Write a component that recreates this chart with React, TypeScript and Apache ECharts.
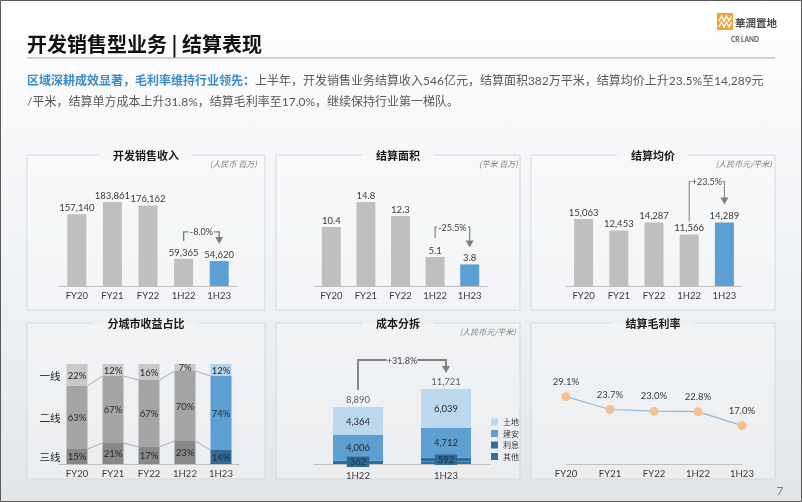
import React, { useEffect, useRef } from "react";
import * as echarts from "echarts";

const periods = ["FY20", "FY21", "FY22", "1H22", "1H23"];
const revenue = [157140, 183861, 176162, 59365, 54620];
const settledArea = [10.4, 14.8, 12.3, 5.1, 3.8];
const avgPrice = [15063, 12453, 14287, 11566, 14289];
const tier1Share = [22, 12, 16, 7, 12];
const tier2Share = [63, 67, 67, 70, 74];
const tier3Share = [15, 21, 17, 23, 14];
const tierNames = ["一线", "二线", "三线"];
const costPeriods = ["1H22", "1H23"];
const costNames = ["土地", "建安", "利息", "其他"];
const costLand = [4364, 6039];
const costBuild = [4006, 4712];
const costInterest = [362, 592];
const costOther = [158, 378];
const costTotal = [8890, 11721];
const grossMargin = [29.1, 23.7, 23.0, 22.8, 17.0];
const changeLabels = ["-8.0%", "-25.5%", "+23.5%", "+31.8%"];
const panelTitles = ["开发销售收入", "结算面积", "结算均价", "分城市收益占比", "成本分拆", "结算毛利率"];
const panelUnits = ["(人民币 百万)", "(平米 百万)", "(人民币元/平米)", "", "(人民币元/平米)", ""];

const NUM = "Lato, 'Noto Sans CJK SC', sans-serif";
const CJK = "'Noto Sans CJK SC', 'Noto Sans', sans-serif";
const GRAY_BAR = "#bfbfbf";
const BLUE_BAR = "#5b9fd3";
const TXT = "#3a3a3a";
const FS = 9.5;

const fmt = (v: number) => v.toLocaleString("en-US");

function bracket(axis: number, from: number, to: number, fromVal: number, toVal: number, text: string,
  gapFrom: number, gapTo: number, rise: number, lw: number) {
  return {
    type: "custom",
    xAxisIndex: axis,
    yAxisIndex: axis,
    silent: true,
    z: 6,
    data: [[from, fromVal, to, toVal]],
    renderItem: (_p: any, api: any) => {
      const a = api.coord([api.value(0), api.value(1)]);
      const b = api.coord([api.value(2), api.value(3)]);
      const x1 = a[0], x2 = b[0];
      const y1 = a[1] - gapFrom, y2 = b[1] - gapTo;
      const yt = Math.min(y1, y2) - rise;
      const mid = (x1 + x2) / 2;
      const tw = text.length * 4.6 + 3;
      const st = { stroke: "#7f7f7f", lineWidth: lw, fill: null };
      return {
        type: "group",
        children: [
          { type: "polyline", shape: { points: [[x1, y1], [x1, yt], [mid - tw / 2, yt]] }, style: st },
          { type: "polyline", shape: { points: [[mid + tw / 2, yt], [x2, yt], [x2, y2 - 6]] }, style: st },
          { type: "polygon", shape: { points: [[x2 - 4, y2 - 7], [x2 + 4, y2 - 7], [x2, y2]] }, style: { fill: "#7f7f7f" } },
          { type: "text", x: mid, y: yt, style: { text, fill: "#404040", fontSize: 9, fontFamily: NUM, align: "center", verticalAlign: "middle" } },
        ],
      };
    },
  };
}

function box(x0: number, x1: number, y0: number, y1: number, title: string, unit: string, unitX: number, unitY: number) {
  const cx = (x0 + x1) / 2;
  const gap = title.length * 11 + 28;
  const els: any[] = [
    { type: "rect", shape: { x: x0, y: y0, width: x1 - x0, height: y1 - y0 }, style: { fill: "rgba(255,255,255,0.25)" }, z: -5 },
    {
      type: "polyline",
      shape: { points: [[cx - gap / 2, y0], [x0, y0], [x0, y1], [x1, y1], [x1, y0], [cx + gap / 2, y0]] },
      style: { stroke: "#d5d8db", lineWidth: 1, fill: null },
    },
    { type: "text", x: cx, y: y0, style: { text: title, fill: "#1a1a1a", fontSize: 11, fontWeight: "bold", fontFamily: CJK, align: "center", verticalAlign: "middle" } },
  ];
  if (unit) {
    els.push({ type: "text", x: unitX, y: unitY, style: { text: unit, fill: "#7f7f7f", fontSize: 8, fontStyle: "italic", fontFamily: CJK, align: "right", verticalAlign: "middle" } });
  }
  return els;
}

function axisX(idx: number, data: string[], margin: number, boundaryGap = true) {
  return {
    type: "category",
    gridIndex: idx,
    data,
    boundaryGap,
    axisLine: { lineStyle: { color: "#bfbfbf", width: 1 } },
    axisTick: { show: false },
    axisLabel: { color: TXT, fontSize: FS, fontFamily: NUM, margin },
  };
}

function axisY(idx: number, min: number, max: number) {
  return { type: "value", gridIndex: idx, min, max, show: false, splitLine: { show: false } };
}

function simpleBar(idx: number, data: number[], decimals: boolean) {
  return {
    type: "bar",
    xAxisIndex: idx,
    yAxisIndex: idx,
    barWidth: 19,
    data,
    itemStyle: { color: (p: any) => (p.dataIndex === data.length - 1 ? BLUE_BAR : GRAY_BAR) },
    label: {
      show: true,
      position: "top",
      distance: 2,
      color: TXT,
      fontSize: FS,
      fontFamily: NUM,
      formatter: (p: any) => (decimals ? Number(p.value).toFixed(1) : fmt(p.value)),
    },
  };
}

const tierColors = [
  ["#c9c9c9", "#b3d3ec"],
  ["#a5a5a5", "#5b9fd3"],
  ["#888888", "#2f6b9b"],
];

function tierBar(k: number, data: number[]) {
  return {
    type: "bar",
    name: "tier" + k,
    stack: "tier",
    xAxisIndex: 3,
    yAxisIndex: 3,
    barWidth: 21,
    data,
    itemStyle: { color: (p: any) => (p.dataIndex === data.length - 1 ? tierColors[k][1] : tierColors[k][0]) },
    label: { show: true, position: "inside", color: "#2a2a2a", fontSize: FS, fontFamily: NUM, formatter: "{c}%" },
  };
}

export default function App() {
  const ref = useRef<HTMLDivElement>(null);
  useEffect(() => {
    if (!ref.current) return;
    const chart = echarts.init(ref.current, undefined, { renderer: "svg" });

    const costColors = ["#bcd8ee", "#5e9fd1", "#2e6d9e", "#3a6f99"];

    const option: any = {
      animation: false,
      grid: [
        { left: 59, top: 186, width: 178, height: 100 },
        { left: 314, top: 186, width: 173, height: 100 },
        { left: 566, top: 186, width: 176, height: 100 },
        { left: 59, top: 364, width: 180, height: 100 },
        { left: 314, top: 364, width: 176, height: 100 },
        { left: 566, top: 344, width: 176, height: 120 },
      ],
      xAxis: [
        axisX(0, periods, 5),
        axisX(1, periods, 5),
        axisX(2, periods, 5),
        axisX(3, periods, 5),
        axisX(4, costPeriods, 7),
        axisX(5, periods, 5, false),
      ],
      yAxis: [
        axisY(0, 0, 219000),
        axisY(1, 0, 17.6),
        axisY(2, 0, 22480),
        axisY(3, 0, 100),
        axisY(4, 0, 15630),
        axisY(5, 1, 51),
      ],
      legend: {
        data: costNames.map((n) => ({ name: n, icon: "rect" })),
        orient: "vertical",
        left: 486,
        top: 413,
        itemWidth: 7,
        itemHeight: 7,
        itemGap: 3.5,
        textStyle: { fontSize: 8, color: TXT, fontFamily: CJK },
        selectedMode: false,
      },
      series: [
        simpleBar(0, revenue, false),
        simpleBar(1, settledArea, true),
        simpleBar(2, avgPrice, false),
        tierBar(2, tier3Share),
        tierBar(1, tier2Share),
        tierBar(0, tier1Share),
        {
          type: "custom",
          xAxisIndex: 3,
          yAxisIndex: 3,
          silent: true,
          z: 4,
          data: periods.slice(0, -1).map((_, i) => [
            i,
            tier3Share[i],
            tier3Share[i] + tier2Share[i],
            tier3Share[i + 1],
            tier3Share[i + 1] + tier2Share[i + 1],
          ]),
          renderItem: (_p: any, api: any) => {
            const i = api.value(0);
            const half = 10.5;
            const a1 = api.coord([i, api.value(1)]);
            const a2 = api.coord([i, api.value(2)]);
            const b1 = api.coord([i + 1, api.value(3)]);
            const b2 = api.coord([i + 1, api.value(4)]);
            const st = { stroke: "#9c9c9c", lineWidth: 0.8 };
            return {
              type: "group",
              children: [
                { type: "line", shape: { x1: a1[0] + half, y1: a1[1], x2: b1[0] - half, y2: b1[1] }, style: st },
                { type: "line", shape: { x1: a2[0] + half, y1: a2[1], x2: b2[0] - half, y2: b2[1] }, style: st },
              ],
            };
          },
        },
        {
          type: "custom",
          xAxisIndex: 3,
          yAxisIndex: 3,
          silent: true,
          data: [
            [0, 100 - tier1Share[0] / 2, 0],
            [0, tier3Share[0] + tier2Share[0] / 2, 1],
            [0, tier3Share[0] / 2, 2],
          ],
          renderItem: (_p: any, api: any) => {
            const p = api.coord([api.value(0), api.value(1)]);
            return {
              type: "text",
              x: p[0] - 10.5 - 6,
              y: p[1],
              style: { text: tierNames[api.value(2)], fill: "#262626", fontSize: 10.5, fontFamily: CJK, align: "right", verticalAlign: "middle" },
            };
          },
        },
        {
          type: "bar", name: costNames[3], stack: "cost", xAxisIndex: 4, yAxisIndex: 4, barWidth: 50,
          data: costOther, itemStyle: { color: costColors[3] },
        },
        {
          type: "bar", name: costNames[2], stack: "cost", xAxisIndex: 4, yAxisIndex: 4, barWidth: 50,
          data: costInterest, itemStyle: { color: costColors[2] },
          label: {
            show: true, position: "inside", color: "#16324a", fontSize: FS, fontFamily: NUM,
            backgroundColor: "#2f6994", padding: [1, 3, 0, 3], formatter: (p: any) => fmt(p.value),
          },
        },
        {
          type: "bar", name: costNames[1], stack: "cost", xAxisIndex: 4, yAxisIndex: 4, barWidth: 50,
          data: costBuild, itemStyle: { color: costColors[1] },
          label: { show: true, position: "inside", color: "#2a2a2a", fontSize: FS, fontFamily: NUM, formatter: (p: any) => fmt(p.value) },
        },
        {
          type: "bar", name: costNames[0], stack: "cost", xAxisIndex: 4, yAxisIndex: 4, barWidth: 50,
          data: costLand, itemStyle: { color: costColors[0] },
          label: { show: true, position: "inside", color: "#2a2a2a", fontSize: FS, fontFamily: NUM, formatter: (p: any) => fmt(p.value) },
        },
        {
          type: "scatter", name: "total", xAxisIndex: 4, yAxisIndex: 4, symbolSize: 0.1,
          itemStyle: { color: "rgba(0,0,0,0)" }, silent: true,
          data: costTotal,
          label: { show: true, position: "top", distance: 3, color: TXT, fontSize: FS, fontFamily: NUM, formatter: (p: any) => fmt(p.value) },
        },
        {
          type: "line", name: "gm", xAxisIndex: 5, yAxisIndex: 5,
          data: grossMargin,
          symbol: "circle", symbolSize: 9,
          lineStyle: { color: "#8dbade", width: 1.2 },
          itemStyle: { color: "#f8c08c" },
          label: {
            show: true, position: "top", distance: 6, color: TXT, fontSize: FS, fontFamily: NUM,
            formatter: (p: any) => Number(p.value).toFixed(1) + "%",
          },
        },
        bracket(0, 3, 4, revenue[3], revenue[4], changeLabels[0], 18, 17, 9, 1.4),
        bracket(1, 3, 4, settledArea[3], settledArea[4], changeLabels[1], 19, 17, 11, 1.2),
        bracket(2, 3, 4, avgPrice[3], avgPrice[4], changeLabels[2], 13, 18, 23, 1),
        bracket(4, 0, 1, costTotal[0], costTotal[1], changeLabels[3], 17, 16, 13, 1.8),
      ],
      graphic: [
        {
          type: "rect", z: -10, shape: { x: 0, y: 0, width: 802, height: 502 },
          style: {
            fill: new echarts.graphic.LinearGradient(0, 0, 0, 1, [
              { offset: 0, color: "#ffffff" },
              { offset: 0.25, color: "#f7f8fa" },
              { offset: 0.6, color: "#eef1f4" },
              { offset: 1, color: "#e3e6e9" },
            ]),
          },
        },
        { type: "rect", shape: { x: 0.5, y: 0.5, width: 801, height: 501 }, style: { fill: null, stroke: "#5a5a5a", lineWidth: 1 } },
        { type: "text", x: 27, y: 43, style: { text: "开发销售型业务 | 结算表现", fill: "#111", fontSize: 20, fontWeight: "bold", fontFamily: CJK, verticalAlign: "middle" } },
        { type: "line", shape: { x1: 27, y1: 58, x2: 775, y2: 58 }, style: { stroke: "#a6a6a6", lineWidth: 1 } },
        {
          type: "text", x: 27, y: 80,
          style: {
            text: "{b|区域深耕成效显著，毛利率维持行业领先：}{n|上半年，开发销售业务结算收入546亿元，结算面积382万平米，结算均价上升23.5%至14,289元}",
            verticalAlign: "middle",
            rich: {
              b: { fill: "#3a8ccb", fontSize: 12, fontWeight: "bold", fontFamily: NUM },
              n: { fill: "#595959", fontSize: 12, fontFamily: NUM },
            },
          },
        },
        {
          type: "text", x: 27, y: 101,
          style: { text: "/平米，结算单方成本上升31.8%，结算毛利率至17.0%，继续保持行业第一梯队。", fill: "#595959", fontSize: 12, fontFamily: NUM, verticalAlign: "middle" },
        },
        { type: "rect", shape: { x: 717, y: 13, width: 16, height: 17 }, style: { fill: "#f2a33a" } },
        { type: "polyline", shape: { points: [[719, 21], [721.5, 16], [724, 21], [726.5, 16], [729, 21], [731.5, 16]] }, style: { stroke: "#fff", lineWidth: 1.4, fill: null } },
        { type: "polyline", shape: { points: [[719, 27], [721.5, 22], [724, 27], [726.5, 22], [729, 27], [731.5, 22]] }, style: { stroke: "#fff", lineWidth: 1.4, fill: null } },
        { type: "text", x: 735, y: 22, style: { text: "華潤置地", fill: "#4a4a4a", fontSize: 10.5, fontWeight: "bold", fontFamily: CJK, verticalAlign: "middle" } },
        { type: "text", x: 745, y: 39, style: { text: "CR LAND", fill: "#555", fontSize: 6.5, fontWeight: "bold", fontFamily: NUM, align: "center", verticalAlign: "middle" } },
        { type: "text", x: 780, y: 490, style: { text: "7", fill: "#7f7f7f", fontSize: 12, fontFamily: NUM, align: "center", verticalAlign: "middle" } },
        ...box(27, 265, 155, 310, panelTitles[0], panelUnits[0], 257, 163),
        ...box(276, 520, 155, 310, panelTitles[1], panelUnits[1], 518, 163),
        ...box(531, 775, 155, 310, panelTitles[2], panelUnits[2], 772, 163),
        ...box(27, 265, 323, 479, panelTitles[3], panelUnits[3], 0, 0),
        ...box(276, 520, 323, 479, panelTitles[4], panelUnits[4], 516, 331),
        ...box(531, 775, 323, 479, panelTitles[5], panelUnits[5], 0, 0),
      ],
    };

    chart.setOption(option);
    return () => chart.dispose();
  }, []);

  return <div ref={ref} style={{ position: "fixed", left: 0, top: 0, width: 802, height: 502 }} />;
}
